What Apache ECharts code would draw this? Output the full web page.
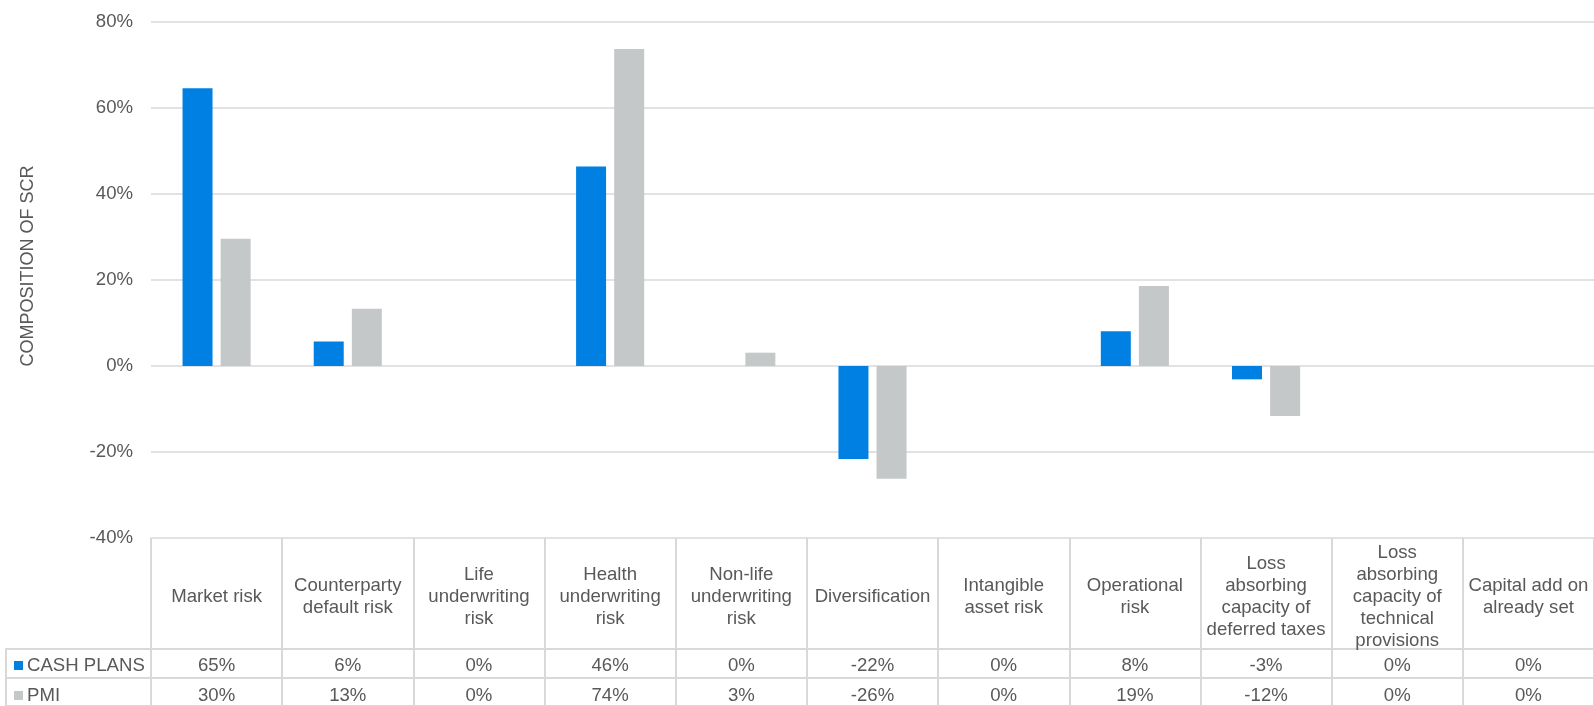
<!DOCTYPE html>
<html>
<head>
<meta charset="utf-8">
<script src="https://cdn.jsdelivr.net/npm/echarts@6/dist/echarts.min.js"></script>
<style>
	html, body { margin: 0; padding: 0; background: #fff; }
	#chart { width: 1594px; height: 706px; }
</style>
</head>
<body>
<div id="chart"></div>
<script>
	// risk modules (header labels of the table)
	var categories = [
		'Market risk',
		'Counterparty\ndefault risk',
		'Life\nunderwriting\nrisk',
		'Health\nunderwriting\nrisk',
		'Non-life\nunderwriting\nrisk',
		'Diversification',
		'Intangible\nasset risk',
		'Operational\nrisk',
		'Loss\nabsorbing\ncapacity of\ndeferred taxes',
		'Loss\nabsorbing\ncapacity of\ntechnical\nprovisions',
		'Capital add on\nalready set'
	]
	var seriesNames = ['CASH PLANS', 'PMI']
	var cashPlans = [64.6, 5.7, 0, 46.4, 0, -21.6, 0, 8.1, -3.1, 0, 0]
	var pmi = [29.6, 13.3, 0, 73.7, 3.1, -26.2, 0, 18.6, -11.6, 0, 0]
	var yTicks = { min: -40, max: 80, interval: 20 }

	var blue = '#0080E2'
	var grey = '#C5C8C8'
	var lineColor = '#D9D9D9'
	var textColor = '#595959'
	var fontSize = 18.6

	function pct(v) {
		return Math.round(v) + '%'
	}

	var chart = echarts.init(document.getElementById('chart'))

	function rowAxis(values, margin) {
		return {
			type: 'category',
			gridIndex: 0,
			position: 'bottom',
			data: categories,
			axisLine: { show: false, onZero: false },
			axisTick: { show: false },
			splitLine: { show: false },
			axisLabel: {
				interval: 0,
				margin: margin,
				verticalAlign: 'middle',
				color: textColor,
				fontSize: fontSize,
				formatter: function (v, i) { return pct(values[i]) }
			}
		}
	}

	function rowLegend(name, top) {
		return {
			left: 9,
			top: top,
			itemWidth: 9,
			itemHeight: 9,
			icon: 'rect',
			selectedMode: false,
			textStyle: { color: textColor, fontSize: fontSize, padding: [0, 0, 0, -1] },
			data: [name]
		}
	}

	chart.setOption({
		animation: false,
		textStyle: { fontFamily: '"Liberation Sans", Arial, sans-serif' },
		legend: [
			rowLegend(seriesNames[0], 651),
			rowLegend(seriesNames[1], 681)
		],
		grid: [
			{ left: 151, right: 0, top: 22, bottom: 168 },
			{ left: 151, right: -2, top: 538, bottom: 0 },
			{ left: 6, right: -2, top: 649, bottom: -3 }
		],
		xAxis: [
			{
				type: 'category',
				gridIndex: 0,
				data: categories,
				axisLine: { show: false, onZero: false },
				axisTick: { show: false },
				axisLabel: {
					interval: 0,
					margin: 59,
					verticalAlign: 'middle',
					lineHeight: 22,
					color: textColor,
					fontSize: fontSize
				}
			},
			rowAxis(cashPlans, 128),
			rowAxis(pmi, 158),
			{
				type: 'category',
				gridIndex: 1,
				data: categories,
				axisLine: { show: false },
				axisTick: { show: false },
				axisLabel: { show: false },
				splitLine: { show: true, lineStyle: { color: lineColor, width: 2 } }
			},
			{
				type: 'value',
				gridIndex: 2,
				show: false
			}
		],
		yAxis: [
			{
				type: 'value',
				gridIndex: 0,
				min: yTicks.min,
				max: yTicks.max,
				interval: yTicks.interval,
				name: 'COMPOSITION OF SCR',
				nameLocation: 'middle',
				nameGap: 114,
				nameTextStyle: { color: textColor, fontSize: 18, padding: [0, 0, 0, 28] },
				axisLine: { show: false },
				axisTick: { show: false },
				axisLabel: { formatter: '{value}%', color: textColor, fontSize: fontSize, margin: 18 },
				splitLine: { lineStyle: { color: lineColor, width: 1.5 } }
			},
			{
				type: 'value',
				gridIndex: 1,
				show: false
			},
			{
				type: 'category',
				gridIndex: 2,
				data: seriesNames,
				inverse: true,
				axisLine: { show: true, lineStyle: { color: lineColor, width: 2 } },
				axisTick: { show: false },
				axisLabel: { show: false },
				splitLine: { show: true, lineStyle: { color: lineColor, width: 2 } }
			}
		],
		series: [
			{
				name: seriesNames[0],
				type: 'bar',
				xAxisIndex: 0,
				yAxisIndex: 0,
				barWidth: 30,
				barGap: '27%',
				itemStyle: { color: blue },
				data: cashPlans
			},
			{
				name: seriesNames[1],
				type: 'bar',
				xAxisIndex: 0,
				yAxisIndex: 0,
				barWidth: 30,
				barGap: '27%',
				itemStyle: { color: grey },
				data: pmi
			}
		]
	})
</script>
</body>
</html>
